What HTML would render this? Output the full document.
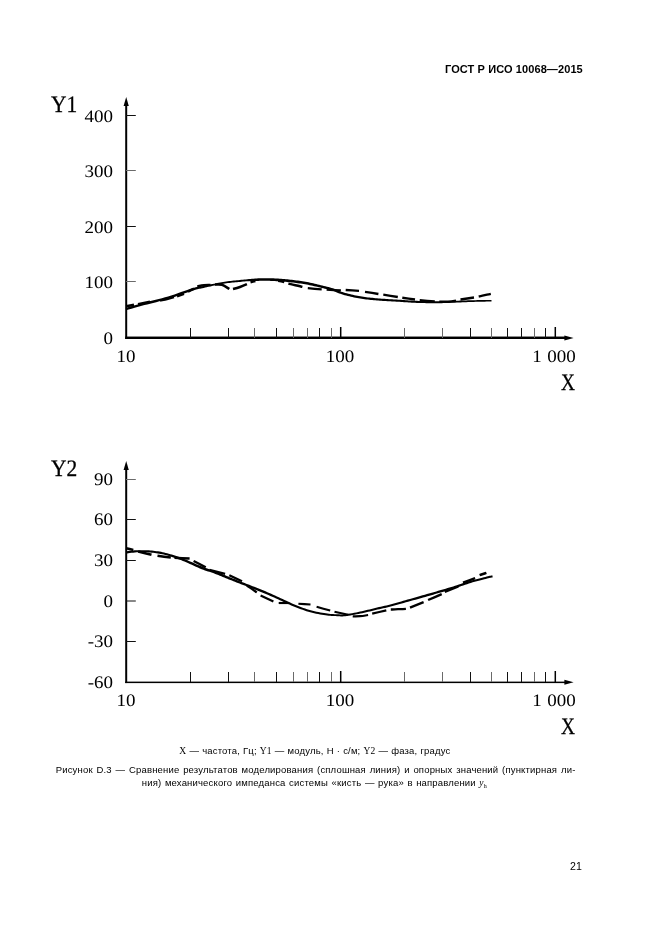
<!DOCTYPE html>
<html lang="ru">
<head>
<meta charset="utf-8">
<title>ГОСТ Р ИСО 10068—2015</title>
<style>
html,body{margin:0;padding:0;background:#fff;}
body{width:661px;height:936px;position:relative;overflow:hidden;font-family:"Liberation Sans",sans-serif;color:#000;}
.t{position:absolute;white-space:nowrap;line-height:1;}
.hdr{font-weight:bold;font-size:11px;letter-spacing:0.1px;left:445px;top:64px;}
.ax{font-family:"Liberation Serif",serif;font-size:17.6px;color:#000;transform:scaleX(1.08);text-rendering:geometricPrecision;}
.yl{text-align:right;width:60px;left:53.4px;transform-origin:100% 50%;}
.xl{text-align:center;width:60px;transform-origin:50% 50%;}
.big{font-family:"Liberation Serif",serif;font-size:23.6px;color:#000;transform-origin:0 0;transform:scaleX(0.91);-webkit-text-stroke:0.3px #000;text-rendering:geometricPrecision;}
.bx{transform:scaleX(0.82);}
.cap{font-size:9.5px;letter-spacing:0.17px;color:#000;}
.se{font-family:"Liberation Serif",serif;}
.pg{font-size:10.6px;left:570px;top:861px;}
</style>
</head>
<body>
<svg width="661" height="936" viewBox="0 0 661 936" style="position:absolute;left:0;top:0">
<g stroke="#000" fill="none">
<line x1="126.2" y1="103" x2="126.2" y2="339" stroke-width="2"/>
<rect x="125.2" y="336.55" width="441" height="2.45" fill="#000" stroke="none"/>
<line x1="126.2" y1="467" x2="126.2" y2="683.05" stroke-width="2"/>
<rect x="125.2" y="681.6" width="441" height="1.5" fill="#000" stroke="none"/>
</g>
<g fill="#000">
<polygon points="126.2,97 128.8,106 123.6,106"/>
<polygon points="573.6,337.9 564.4,340.4 564.4,335.4"/>
<polygon points="126.2,461 128.8,470 123.6,470"/>
<polygon points="573.6,682.3 564.4,684.8 564.4,679.8"/>
</g>
<g stroke="#111" stroke-width="1" fill="none">
<line x1="190.5" y1="328.0" x2="190.5" y2="338.0"/>
<line x1="228.5" y1="328.0" x2="228.5" y2="338.0"/>
<line x1="254.5" y1="328.0" x2="254.5" y2="338.0" stroke="#6a6a6a"/>
<line x1="276.5" y1="328.0" x2="276.5" y2="338.0"/>
<line x1="293.5" y1="328.0" x2="293.5" y2="338.0" stroke="#6a6a6a"/>
<line x1="307.5" y1="328.0" x2="307.5" y2="338.0" stroke="#6a6a6a"/>
<line x1="319.5" y1="328.0" x2="319.5" y2="338.0"/>
<line x1="331.5" y1="328.0" x2="331.5" y2="338.0" stroke="#6a6a6a"/>
<line x1="340.7" y1="327.0" x2="340.7" y2="338.0" stroke="#000" stroke-width="1.5"/>
<line x1="404.5" y1="328.0" x2="404.5" y2="338.0" stroke="#6a6a6a"/>
<line x1="442.5" y1="328.0" x2="442.5" y2="338.0" stroke="#6a6a6a"/>
<line x1="470.5" y1="328.0" x2="470.5" y2="338.0"/>
<line x1="491.5" y1="328.0" x2="491.5" y2="338.0" stroke="#6a6a6a"/>
<line x1="507.5" y1="328.0" x2="507.5" y2="338.0"/>
<line x1="521.5" y1="328.0" x2="521.5" y2="338.0"/>
<line x1="534.5" y1="328.0" x2="534.5" y2="338.0" stroke="#6a6a6a"/>
<line x1="545.5" y1="328.0" x2="545.5" y2="338.0"/>
<line x1="555.3" y1="327.0" x2="555.3" y2="338.0" stroke="#000" stroke-width="1.5"/>
<line x1="190.5" y1="672.0" x2="190.5" y2="682.0"/>
<line x1="228.5" y1="672.0" x2="228.5" y2="682.0"/>
<line x1="254.5" y1="672.0" x2="254.5" y2="682.0" stroke="#6a6a6a"/>
<line x1="276.5" y1="672.0" x2="276.5" y2="682.0"/>
<line x1="293.5" y1="672.0" x2="293.5" y2="682.0" stroke="#6a6a6a"/>
<line x1="307.5" y1="672.0" x2="307.5" y2="682.0" stroke="#6a6a6a"/>
<line x1="319.5" y1="672.0" x2="319.5" y2="682.0"/>
<line x1="331.5" y1="672.0" x2="331.5" y2="682.0" stroke="#6a6a6a"/>
<line x1="340.7" y1="671.0" x2="340.7" y2="682.0" stroke="#000" stroke-width="1.5"/>
<line x1="404.5" y1="672.0" x2="404.5" y2="682.0" stroke="#6a6a6a"/>
<line x1="442.5" y1="672.0" x2="442.5" y2="682.0" stroke="#6a6a6a"/>
<line x1="470.5" y1="672.0" x2="470.5" y2="682.0"/>
<line x1="491.5" y1="672.0" x2="491.5" y2="682.0" stroke="#6a6a6a"/>
<line x1="507.5" y1="672.0" x2="507.5" y2="682.0"/>
<line x1="521.5" y1="672.0" x2="521.5" y2="682.0"/>
<line x1="534.5" y1="672.0" x2="534.5" y2="682.0" stroke="#6a6a6a"/>
<line x1="545.5" y1="672.0" x2="545.5" y2="682.0"/>
<line x1="555.3" y1="671.0" x2="555.3" y2="682.0" stroke="#000" stroke-width="1.5"/>
<line x1="126" y1="115.5" x2="135.8" y2="115.5"/>
<line x1="126" y1="170.5" x2="135.8" y2="170.5" stroke="#6a6a6a"/>
<line x1="126" y1="226.5" x2="135.8" y2="226.5"/>
<line x1="126" y1="281.5" x2="135.8" y2="281.5" stroke="#6a6a6a"/>
<line x1="126" y1="479.5" x2="135.8" y2="479.5" stroke="#6a6a6a"/>
<line x1="126" y1="519.5" x2="135.8" y2="519.5"/>
<line x1="126" y1="560.5" x2="135.8" y2="560.5"/>
<line x1="126" y1="601.0" x2="135.8" y2="601.0"/>
<line x1="126" y1="641.5" x2="135.8" y2="641.5"/>
</g>
<g fill="#000" stroke="none">
<path d="M126.34 310.20 L127.70 309.82 L129.47 309.31 L131.57 308.71 L133.93 308.04 L136.47 307.32 L139.13 306.57 L141.84 305.82 L144.52 305.09 L147.25 304.38 L150.13 303.65 L153.13 302.90 L156.22 302.13 L159.36 301.34 L162.52 300.52 L165.66 299.66 L168.75 298.77 L171.90 297.78 L175.18 296.69 L178.52 295.54 L181.82 294.38 L185.00 293.26 L187.98 292.21 L190.66 291.29 L192.96 290.54 L194.79 289.96 L196.23 289.54 L197.37 289.25 L198.32 289.04 L199.18 288.87 L200.08 288.70 L201.10 288.50 L202.32 288.22 L203.71 287.89 L205.16 287.55 L206.66 287.20 L208.19 286.84 L209.74 286.48 L211.30 286.13 L212.85 285.79 L214.38 285.49 L215.89 285.19 L217.40 284.89 L218.91 284.60 L220.42 284.32 L221.92 284.04 L223.43 283.78 L224.93 283.54 L226.43 283.31 L227.93 283.11 L229.43 282.93 L230.94 282.76 L232.44 282.61 L233.95 282.46 L235.46 282.32 L236.98 282.18 L238.49 282.04 L240.01 281.89 L241.52 281.74 L243.03 281.59 L244.54 281.44 L246.05 281.33 L247.56 281.24 L249.07 281.16 L250.57 281.10 L252.10 281.04 L253.65 281.00 L255.21 280.96 L256.76 280.94 L258.30 280.92 L259.80 280.87 L261.24 280.84 L262.62 280.81 L263.91 280.79 L265.11 280.78 L266.24 280.78 L267.34 280.79 L268.44 280.81 L269.57 280.84 L270.76 280.88 L272.04 280.93 L273.42 281.00 L274.87 281.08 L276.37 281.17 L277.90 281.27 L279.45 281.38 L281.01 281.49 L282.56 281.61 L284.08 281.73 L285.59 281.86 L287.10 282.00 L288.60 282.14 L290.11 282.29 L291.62 282.45 L293.12 282.62 L294.63 282.80 L296.13 282.99 L297.64 283.19 L299.14 283.39 L300.65 283.60 L302.15 283.82 L303.66 284.06 L305.16 284.30 L306.66 284.56 L308.16 284.84 L309.66 285.14 L311.15 285.46 L312.66 285.79 L314.16 286.14 L315.67 286.50 L317.18 286.86 L318.69 287.23 L320.21 287.59 L321.74 287.96 L323.30 288.33 L324.87 288.69 L326.42 289.07 L327.95 289.45 L329.44 289.83 L330.88 290.23 L332.24 290.64 L333.49 291.06 L334.66 291.50 L335.78 291.96 L336.88 292.44 L338.00 292.92 L339.17 293.40 L340.41 293.87 L341.74 294.32 L343.16 294.75 L344.63 295.17 L346.15 295.58 L347.70 295.98 L349.27 296.37 L350.85 296.74 L352.42 297.09 L353.96 297.42 L355.49 297.73 L357.02 298.02 L358.54 298.29 L360.07 298.54 L361.59 298.78 L363.11 299.00 L364.63 299.21 L366.15 299.41 L367.68 299.60 L369.20 299.77 L370.72 299.93 L372.24 300.08 L373.76 300.22 L375.28 300.35 L376.80 300.47 L378.31 300.59 L379.83 300.71 L381.35 300.82 L382.87 300.92 L384.38 301.01 L385.90 301.10 L387.41 301.19 L388.92 301.28 L390.43 301.37 L391.95 301.46 L393.45 301.54 L394.96 301.62 L396.47 301.71 L397.97 301.79 L399.49 301.87 L401.01 301.95 L402.54 302.04 L404.06 302.14 L405.56 302.24 L407.07 302.34 L408.58 302.45 L410.13 302.55 L411.71 302.65 L413.35 302.74 L415.05 302.82 L416.83 302.89 L418.68 302.95 L420.58 303.01 L422.51 303.06 L424.47 303.10 L426.43 303.14 L428.37 303.17 L430.29 303.19 L432.19 303.20 L434.08 303.20 L435.97 303.20 L437.86 303.19 L439.75 303.17 L441.64 303.14 L443.53 303.10 L445.42 303.06 L447.32 303.00 L449.21 302.93 L451.10 302.85 L452.99 302.76 L454.88 302.67 L456.77 302.58 L458.65 302.49 L460.53 302.41 L462.41 302.34 L464.29 302.26 L466.16 302.19 L468.03 302.12 L469.91 302.05 L471.80 301.98 L473.70 301.92 L475.62 301.86 L477.68 301.80 L479.91 301.75 L482.22 301.69 L484.51 301.65 L486.68 301.60 L488.64 301.56 L490.28 301.53 L491.51 301.50 L491.49 299.90 L490.25 299.92 L488.61 299.94 L486.65 299.96 L484.48 299.99 L482.19 300.02 L479.87 300.06 L477.64 300.10 L475.58 300.14 L473.65 300.19 L471.74 300.24 L469.85 300.29 L467.97 300.35 L466.10 300.40 L464.22 300.46 L462.35 300.53 L460.47 300.59 L458.57 300.66 L456.68 300.73 L454.80 300.81 L452.91 300.89 L451.02 300.96 L449.14 301.03 L447.26 301.09 L445.38 301.14 L443.49 301.18 L441.61 301.21 L439.73 301.23 L437.85 301.24 L435.97 301.24 L434.08 301.24 L432.20 301.23 L430.31 301.21 L428.40 301.18 L426.46 301.15 L424.51 301.10 L422.56 301.05 L420.64 300.99 L418.75 300.93 L416.91 300.86 L415.15 300.78 L413.46 300.70 L411.84 300.60 L410.27 300.50 L408.73 300.39 L407.21 300.28 L405.71 300.17 L404.19 300.06 L402.66 299.96 L401.13 299.86 L399.61 299.77 L398.09 299.68 L396.58 299.59 L395.08 299.51 L393.58 299.42 L392.07 299.33 L390.57 299.23 L389.05 299.14 L387.54 299.04 L386.03 298.95 L384.52 298.85 L383.01 298.75 L381.50 298.64 L380.00 298.53 L378.49 298.41 L376.98 298.28 L375.47 298.15 L373.96 298.01 L372.46 297.87 L370.95 297.72 L369.45 297.56 L367.95 297.38 L366.45 297.19 L364.94 296.98 L363.44 296.77 L361.93 296.54 L360.43 296.30 L358.93 296.04 L357.43 295.77 L355.93 295.48 L354.44 295.18 L352.92 294.85 L351.38 294.49 L349.82 294.12 L348.27 293.73 L346.75 293.33 L345.26 292.92 L343.82 292.50 L342.46 292.08 L341.20 291.65 L340.04 291.21 L338.92 290.74 L337.82 290.26 L336.70 289.78 L335.54 289.29 L334.30 288.82 L332.96 288.36 L331.55 287.93 L330.07 287.52 L328.55 287.11 L327.00 286.72 L325.44 286.33 L323.87 285.95 L322.32 285.58 L320.79 285.21 L319.28 284.83 L317.77 284.46 L316.25 284.08 L314.74 283.71 L313.22 283.35 L311.70 283.00 L310.17 282.67 L308.64 282.36 L307.12 282.07 L305.59 281.79 L304.07 281.53 L302.55 281.29 L301.02 281.06 L299.51 280.83 L297.99 280.62 L296.47 280.41 L294.95 280.21 L293.43 280.02 L291.91 279.84 L290.39 279.67 L288.87 279.51 L287.35 279.35 L285.83 279.21 L284.32 279.07 L282.78 278.93 L281.22 278.81 L279.64 278.69 L278.08 278.58 L276.53 278.49 L275.02 278.40 L273.55 278.33 L272.16 278.27 L270.85 278.22 L269.64 278.19 L268.49 278.16 L267.36 278.15 L266.24 278.14 L265.09 278.15 L263.88 278.17 L262.58 278.19 L261.18 278.22 L259.72 278.27 L258.21 278.32 L256.66 278.41 L255.10 278.52 L253.52 278.64 L251.96 278.77 L250.43 278.90 L248.91 279.05 L247.39 279.22 L245.88 279.39 L244.36 279.56 L242.85 279.70 L241.33 279.86 L239.82 280.01 L238.31 280.16 L236.80 280.31 L235.29 280.46 L233.77 280.60 L232.26 280.76 L230.74 280.91 L229.22 281.09 L227.69 281.28 L226.17 281.49 L224.64 281.72 L223.12 281.97 L221.60 282.24 L220.08 282.52 L218.57 282.81 L217.05 283.11 L215.54 283.41 L214.02 283.71 L212.49 284.03 L210.93 284.34 L209.35 284.65 L207.78 284.96 L206.24 285.28 L204.72 285.59 L203.27 285.89 L201.88 286.18 L200.68 286.41 L199.70 286.57 L198.80 286.71 L197.90 286.86 L196.88 287.06 L195.66 287.33 L194.15 287.72 L192.24 288.26 L189.90 289.01 L187.19 289.94 L184.20 290.98 L181.02 292.10 L177.72 293.26 L174.41 294.39 L171.15 295.47 L168.05 296.43 L165.00 297.31 L161.90 298.16 L158.76 298.97 L155.63 299.75 L152.54 300.52 L149.53 301.26 L146.63 301.99 L143.88 302.71 L141.19 303.44 L138.47 304.18 L135.80 304.93 L133.25 305.65 L130.89 306.32 L128.79 306.91 L127.02 307.41 L125.66 307.80Z"/>
<path d="M126.12 553.54 L127.07 553.43 L128.33 553.27 L129.81 553.07 L131.46 552.87 L133.20 552.66 L134.96 552.47 L136.67 552.32 L138.24 552.22 L139.74 552.16 L141.24 552.14 L142.73 552.15 L144.23 552.18 L145.73 552.23 L147.22 552.30 L148.72 552.40 L150.22 552.52 L151.72 552.65 L153.21 552.81 L154.71 552.98 L156.21 553.18 L157.70 553.40 L159.20 553.65 L160.69 553.92 L162.18 554.22 L163.68 554.56 L165.17 554.92 L166.66 555.32 L168.16 555.75 L169.65 556.20 L171.15 556.66 L172.65 557.15 L174.15 557.65 L175.63 558.15 L177.07 558.67 L178.50 559.20 L179.93 559.75 L181.39 560.33 L182.91 560.94 L184.48 561.59 L186.15 562.28 L187.93 563.05 L189.83 563.90 L191.82 564.80 L193.85 565.73 L195.88 566.67 L197.89 567.57 L199.82 568.41 L201.64 569.16 L203.34 569.81 L204.95 570.39 L206.49 570.91 L207.98 571.39 L209.43 571.86 L210.86 572.33 L212.30 572.82 L213.77 573.35 L215.27 573.92 L216.77 574.51 L218.28 575.12 L219.79 575.74 L221.30 576.36 L222.81 576.99 L224.33 577.61 L225.85 578.22 L227.37 578.82 L228.88 579.43 L230.39 580.03 L231.91 580.62 L233.42 581.22 L234.94 581.82 L236.45 582.41 L237.97 583.00 L239.47 583.59 L240.94 584.16 L242.40 584.72 L243.87 585.28 L245.36 585.86 L246.88 586.44 L248.44 587.05 L250.07 587.69 L251.78 588.35 L253.54 589.03 L255.35 589.73 L257.19 590.44 L259.05 591.17 L260.92 591.92 L262.79 592.67 L264.66 593.45 L266.52 594.24 L268.41 595.06 L270.30 595.90 L272.21 596.75 L274.12 597.61 L276.04 598.48 L277.95 599.34 L279.85 600.19 L281.74 601.05 L283.63 601.92 L285.52 602.79 L287.41 603.67 L289.30 604.53 L291.20 605.38 L293.10 606.19 L295.01 606.97 L296.91 607.72 L298.80 608.45 L300.70 609.17 L302.60 609.85 L304.51 610.51 L306.41 611.14 L308.32 611.73 L310.23 612.27 L312.17 612.77 L314.14 613.23 L316.12 613.65 L318.10 614.04 L320.04 614.39 L321.93 614.71 L323.74 615.00 L325.46 615.25 L327.11 615.47 L328.69 615.64 L330.21 615.78 L331.67 615.89 L333.08 615.98 L334.42 616.05 L335.72 616.11 L336.95 616.16 L338.06 616.23 L339.03 616.29 L339.91 616.35 L340.78 616.39 L341.70 616.40 L342.70 616.38 L343.85 616.31 L345.21 616.18 L346.79 615.98 L348.55 615.73 L350.44 615.44 L352.43 615.11 L354.48 614.75 L356.53 614.37 L358.55 613.98 L360.51 613.59 L362.41 613.19 L364.31 612.76 L366.21 612.32 L368.10 611.86 L369.99 611.39 L371.88 610.93 L373.76 610.47 L375.64 610.02 L377.52 609.59 L379.41 609.16 L381.29 608.74 L383.18 608.32 L385.08 607.90 L386.97 607.46 L388.87 607.02 L390.77 606.55 L392.63 606.07 L394.46 605.58 L396.26 605.08 L398.07 604.58 L399.92 604.06 L401.82 603.52 L403.80 602.95 L405.90 602.36 L408.16 601.73 L410.57 601.06 L413.08 600.36 L415.65 599.64 L418.21 598.91 L420.73 598.21 L423.14 597.52 L425.41 596.88 L427.52 596.28 L429.52 595.71 L431.43 595.16 L433.29 594.63 L435.11 594.10 L436.93 593.57 L438.75 593.04 L440.62 592.49 L442.51 591.94 L444.40 591.39 L446.29 590.84 L448.18 590.29 L450.07 589.73 L451.96 589.16 L453.85 588.57 L455.74 587.98 L457.64 587.36 L459.53 586.72 L461.42 586.07 L463.31 585.41 L465.19 584.76 L467.07 584.13 L468.94 583.52 L470.81 582.93 L472.74 582.37 L474.75 581.80 L476.79 581.24 L478.83 580.70 L480.80 580.19 L482.66 579.71 L484.36 579.28 L485.85 578.89 L487.15 578.57 L488.30 578.28 L489.32 578.04 L490.21 577.84 L490.99 577.66 L491.67 577.51 L492.24 577.39 L492.72 577.28 L492.28 575.32 L491.81 575.43 L491.24 575.55 L490.56 575.69 L489.77 575.86 L488.86 576.07 L487.83 576.30 L486.66 576.58 L485.35 576.91 L483.85 577.28 L482.15 577.70 L480.28 578.17 L478.30 578.67 L476.25 579.20 L474.19 579.75 L472.15 580.30 L470.19 580.87 L468.29 581.45 L466.38 582.05 L464.49 582.68 L462.59 583.32 L460.70 583.97 L458.82 584.60 L456.94 585.22 L455.06 585.82 L453.18 586.40 L451.30 586.97 L449.41 587.53 L447.53 588.09 L445.65 588.64 L443.76 589.20 L441.87 589.75 L439.98 590.31 L438.11 590.85 L436.29 591.39 L434.48 591.92 L432.66 592.45 L430.81 592.99 L428.89 593.54 L426.90 594.11 L424.79 594.72 L422.53 595.36 L420.12 596.05 L417.61 596.76 L415.04 597.49 L412.48 598.21 L409.97 598.92 L407.56 599.60 L405.30 600.24 L403.20 600.83 L401.21 601.40 L399.31 601.94 L397.48 602.47 L395.68 602.98 L393.89 603.48 L392.08 603.97 L390.23 604.45 L388.36 604.93 L386.48 605.38 L384.60 605.82 L382.72 606.25 L380.83 606.68 L378.94 607.10 L377.05 607.54 L375.16 607.98 L373.27 608.44 L371.38 608.91 L369.49 609.38 L367.61 609.86 L365.73 610.32 L363.85 610.77 L361.97 611.20 L360.09 611.61 L358.16 612.00 L356.15 612.39 L354.12 612.78 L352.09 613.14 L350.12 613.48 L348.26 613.78 L346.53 614.03 L344.99 614.22 L343.69 614.35 L342.61 614.43 L341.68 614.45 L340.84 614.45 L340.02 614.41 L339.15 614.36 L338.18 614.30 L337.05 614.24 L335.80 614.18 L334.51 614.13 L333.18 614.07 L331.80 613.99 L330.37 613.88 L328.88 613.75 L327.34 613.57 L325.74 613.35 L324.04 613.09 L322.24 612.79 L320.38 612.47 L318.47 612.11 L316.53 611.72 L314.58 611.29 L312.65 610.83 L310.77 610.33 L308.90 609.79 L307.04 609.20 L305.17 608.58 L303.30 607.92 L301.42 607.23 L299.55 606.52 L297.67 605.78 L295.79 605.03 L293.92 604.25 L292.05 603.44 L290.18 602.59 L288.31 601.72 L286.42 600.84 L284.54 599.95 L282.65 599.07 L280.75 598.21 L278.85 597.34 L276.95 596.47 L275.04 595.60 L273.13 594.72 L271.22 593.86 L269.31 593.00 L267.42 592.17 L265.54 591.35 L263.66 590.56 L261.78 589.79 L259.90 589.03 L258.03 588.29 L256.19 587.57 L254.38 586.87 L252.62 586.18 L250.93 585.51 L249.29 584.87 L247.72 584.26 L246.20 583.67 L244.72 583.09 L243.25 582.52 L241.79 581.96 L240.33 581.38 L238.83 580.80 L237.32 580.20 L235.81 579.60 L234.30 579.00 L232.79 578.40 L231.28 577.80 L229.77 577.19 L228.26 576.59 L226.75 575.98 L225.24 575.37 L223.74 574.75 L222.23 574.12 L220.71 573.49 L219.20 572.86 L217.68 572.24 L216.16 571.64 L214.63 571.05 L213.12 570.50 L211.65 569.99 L210.19 569.52 L208.75 569.04 L207.28 568.56 L205.77 568.05 L204.21 567.48 L202.56 566.84 L200.79 566.11 L198.88 565.29 L196.89 564.42 L194.85 563.52 L192.81 562.60 L190.80 561.71 L188.87 560.88 L187.05 560.12 L185.36 559.43 L183.77 558.80 L182.23 558.19 L180.74 557.63 L179.28 557.08 L177.82 556.56 L176.35 556.05 L174.85 555.55 L173.32 555.06 L171.80 554.59 L170.27 554.13 L168.74 553.69 L167.21 553.27 L165.68 552.88 L164.15 552.51 L162.62 552.18 L161.08 551.87 L159.55 551.60 L158.02 551.35 L156.49 551.13 L154.96 550.94 L153.44 550.77 L151.91 550.61 L150.38 550.48 L148.86 550.37 L147.33 550.28 L145.81 550.21 L144.28 550.16 L142.76 550.14 L141.23 550.13 L139.70 550.15 L138.16 550.18 L136.53 550.25 L134.78 550.37 L132.99 550.52 L131.22 550.70 L129.56 550.87 L128.06 551.03 L126.81 551.16 L125.88 551.26Z"/>
</g>
<g stroke="#000" fill="none" stroke-linejoin="round">
<path d="M126.0 306.3 C127.3 306.1 132.7 305.1 134.0 304.8" stroke-width="2.50"/>
<path d="M138.0 304.2 C140.0 303.8 148.0 302.0 150.0 301.6" stroke-width="2.50"/>
<path d="M160.0 300.6 C161.2 300.3 164.7 299.6 167.0 299.0 C169.3 298.4 172.8 297.3 174.0 297.0" stroke-width="2.50"/>
<path d="M177.0 296.2 C178.2 295.8 182.8 294.2 184.0 293.8" stroke-width="2.50"/>
<path d="M188.0 291.6 C189.0 291.1 193.0 289.1 194.0 288.6" stroke-width="2.50"/>
<path d="M197.3 286.4 C198.4 286.2 201.8 285.5 204.0 285.3 C206.2 285.1 209.5 285.1 210.6 285.0" stroke-width="2.50"/>
<path d="M215.0 284.6 C216.2 284.6 219.6 284.1 222.0 284.8 C224.4 285.5 228.1 288.3 229.3 289.0" stroke-width="2.50"/>
<path d="M233.0 289.0 C234.2 288.7 237.7 287.8 240.0 287.0 C242.3 286.2 245.8 284.7 246.9 284.2" stroke-width="2.50"/>
<path d="M250.5 282.2 C251.3 282.0 254.6 281.2 255.4 281.0" stroke-width="2.50"/>
<path d="M278.2 280.8 C279.2 281.0 283.2 281.8 284.2 282.0" stroke-width="2.44"/>
<path d="M288.4 283.6 C290.7 284.2 300.1 286.3 302.4 286.9" stroke-width="2.40"/>
<path d="M307.8 288.2 C310.1 288.4 319.4 289.2 321.7 289.4" stroke-width="2.34"/>
<path d="M326.6 289.7 C329.0 289.8 338.5 290.3 340.9 290.4" stroke-width="2.30"/>
<path d="M345.7 290.0 C347.9 290.1 356.8 290.7 359.0 290.8" stroke-width="2.32"/>
<path d="M365.0 291.9 C367.2 292.2 376.2 293.6 378.4 294.0" stroke-width="2.35"/>
<path d="M383.3 294.7 C385.7 295.1 395.4 296.6 397.8 297.0" stroke-width="2.37"/>
<path d="M402.3 297.7 C404.4 298.0 412.9 299.2 415.0 299.5" stroke-width="2.39"/>
<path d="M419.7 300.3 C422.2 300.5 432.3 301.3 434.8 301.5" stroke-width="2.39"/>
<path d="M439.3 301.8 C440.8 301.8 445.2 301.8 448.0 301.6 C450.8 301.4 454.7 300.8 456.0 300.6" stroke-width="2.36"/>
<path d="M460.5 299.5 C462.8 299.2 471.8 297.8 474.0 297.5" stroke-width="2.33"/>
<path d="M478.7 296.5 C480.7 296.1 488.8 294.2 490.8 293.8" stroke-width="2.31"/>
<path d="M126.0 548.2 C127.2 548.5 132.1 549.7 133.3 550.0" stroke-width="2.60"/>
<path d="M138.2 551.5 C140.4 552.0 149.3 554.2 151.5 554.8" stroke-width="2.57"/>
<path d="M157.5 555.7 C159.7 556.0 168.6 557.3 170.8 557.6" stroke-width="2.55"/>
<path d="M174.5 557.8 C177.0 557.9 187.1 558.4 189.6 558.5" stroke-width="2.52"/>
<path d="M193.6 561.0 C195.6 562.0 203.7 566.2 205.7 567.3" stroke-width="2.50"/>
<path d="M209.4 569.8 C212.0 570.5 222.5 573.1 225.1 573.8" stroke-width="2.41"/>
<path d="M229.3 575.3 C231.4 576.3 239.9 580.3 242.0 581.3" stroke-width="2.32"/>
<path d="M246.9 585.6 C248.6 586.7 255.2 591.3 256.8 592.4" stroke-width="2.24"/>
<path d="M260.6 595.4 C262.7 596.4 271.3 600.5 273.4 601.5" stroke-width="2.19"/>
<path d="M278.7 603.0 C280.5 603.0 287.5 603.0 289.3 603.0" stroke-width="2.17"/>
<path d="M298.4 603.7 C300.4 603.8 308.5 604.4 310.5 604.5" stroke-width="2.14"/>
<path d="M316.6 606.8 C318.9 607.4 327.9 610.0 330.2 610.6" stroke-width="2.11"/>
<path d="M334.5 611.8 C336.8 612.3 345.9 614.3 348.2 614.8" stroke-width="2.13"/>
<path d="M352.7 616.3 C353.9 616.3 357.4 616.4 360.0 616.2 C362.6 616.0 366.8 615.2 368.1 615.0" stroke-width="2.19"/>
<path d="M372.2 613.6 C374.6 613.1 383.9 610.9 386.3 610.4" stroke-width="2.24"/>
<path d="M390.8 609.5 C392.0 609.5 395.5 609.3 398.0 609.2 C400.5 609.1 404.6 608.9 405.9 608.8" stroke-width="2.30"/>
<path d="M410.0 607.7 C412.3 606.8 421.3 603.1 423.6 602.2" stroke-width="2.34"/>
<path d="M428.1 600.0 C430.4 599.0 439.4 595.1 441.7 594.1" stroke-width="2.38"/>
<path d="M444.8 591.8 C447.1 590.9 456.1 587.4 458.4 586.5" stroke-width="2.41"/>
<path d="M463.0 582.7 C465.0 582.0 473.1 579.0 475.1 578.2" stroke-width="2.45"/>
<path d="M479.6 575.1 C480.7 574.7 485.3 573.3 486.4 572.9" stroke-width="2.48"/>
</g>
</svg>
<div class="t hdr">ГОСТ Р ИСО 10068—2015</div>

<div class="t big" style="left:50.5px;top:93.5px;">Y1</div>
<div class="t ax yl" style="top:107.7px;">400</div>
<div class="t ax yl" style="top:162.9px;">300</div>
<div class="t ax yl" style="top:218.7px;">200</div>
<div class="t ax yl" style="top:274.2px;">100</div>
<div class="t ax yl" style="top:329.7px;">0</div>
<div class="t ax xl" style="left:96px;top:347.6px;">10</div>
<div class="t ax xl" style="left:310px;top:347.6px;">100</div>
<div class="t ax xl" style="left:524.2px;top:347.6px;word-spacing:0.5px;">1 000</div>
<div class="t big bx" style="left:561px;top:371.6px;">X</div>

<div class="t big" style="left:51.2px;top:457.5px;">Y2</div>
<div class="t ax yl" style="top:471.4px;">90</div>
<div class="t ax yl" style="top:511.4px;">60</div>
<div class="t ax yl" style="top:552.4px;">30</div>
<div class="t ax yl" style="top:593.4px;">0</div>
<div class="t ax yl" style="top:633.4px;">-30</div>
<div class="t ax yl" style="top:674.4px;">-60</div>
<div class="t ax xl" style="left:96px;top:692.4px;">10</div>
<div class="t ax xl" style="left:310px;top:692.4px;">100</div>
<div class="t ax xl" style="left:524.2px;top:692.4px;word-spacing:0.5px;">1 000</div>
<div class="t big bx" style="left:561px;top:715.6px;">X</div>

<div class="t cap" id="c1" style="left:179.3px;top:746px;word-spacing:0.26px;"><span class="se">X</span> — частота, Гц; <span class="se">Y1</span> — модуль, Н · с/м; <span class="se">Y2</span> — фаза, градус</div>
<div class="t cap" id="c2" style="left:55.7px;top:765px;word-spacing:0.97px;">Рисунок D.3 — Сравнение результатов моделирования (сплошная линия) и опорных значений (пунктирная ли-</div>
<div class="t cap" id="c3" style="left:141.8px;top:778.3px;word-spacing:0.75px;">ния) механического импеданса системы «кисть — рука» в направлении <i class="se">y</i><sub class="se" style="font-size:6px;vertical-align:-2px;line-height:0;">h</sub></div>
<div class="t pg">21</div>
</body>
</html>
